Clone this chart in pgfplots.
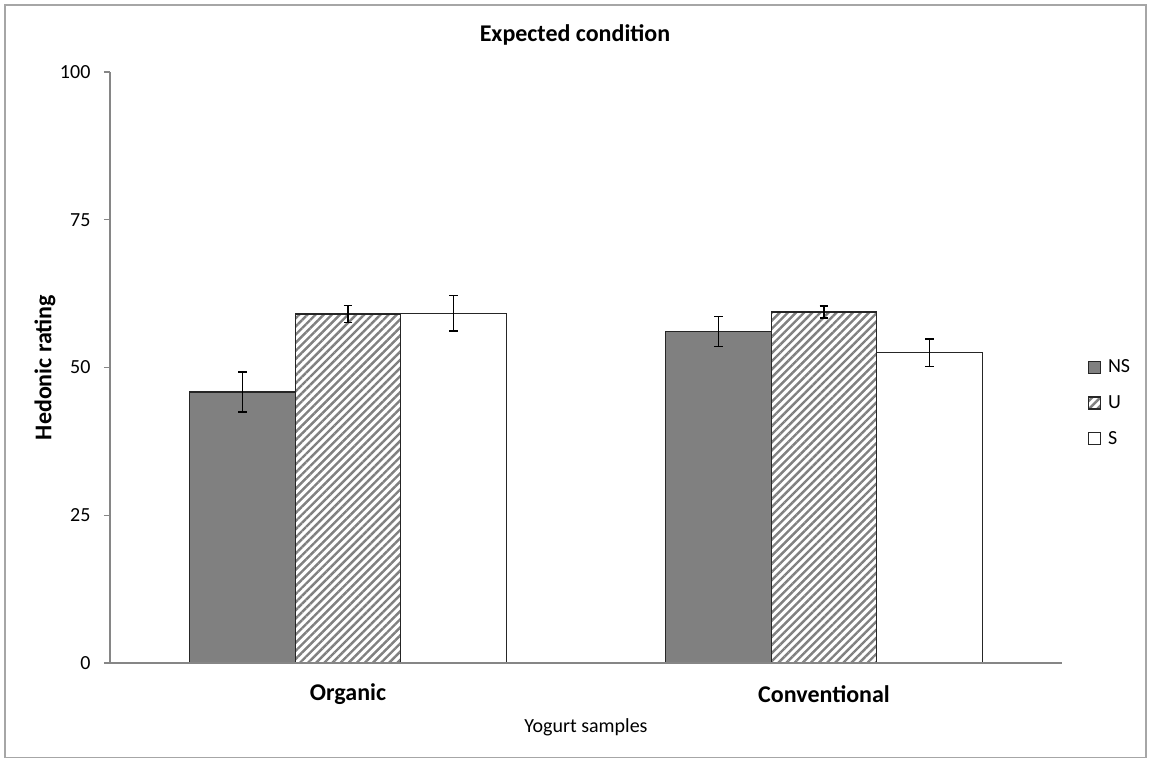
\documentclass[border=0pt]{standalone}
\usepackage{pgfplots}
\pgfplotsset{compat=1.18}
\usepackage{pgfplotstable}
\usetikzlibrary{patterns.meta}
\usepackage{fontspec}
\setmainfont{Carlito}

\definecolor{axisgray}{HTML}{868686}
\definecolor{barfill}{HTML}{808080}
\definecolor{framegray}{HTML}{A6A6A6}

\pgfplotstableread{
x NS NSe U Ue S Se
0 45.85 3.4 59.05 1.4 59.2 3.0
1 56.1 2.5 59.4 1.0 52.5 2.3
}\datatable

\begin{document}
\begin{tikzpicture}[x=1pt,y=1pt]
\useasboundingbox (0,0) rectangle (861.75,570);
\draw[framegray, line width=1pt] (3.75,1.9) rectangle (859.5,566.25);
\node[font=\fontsize{18}{20}\selectfont\bfseries] at (431.25,544) {Expected condition};
\begin{axis}[
  at={(82.5pt,72.75pt)}, anchor=south west,
  scale only axis, width=714pt, height=443.25pt,
  xmin=-0.5, xmax=1.5, ymin=0, ymax=100,
  ytick={0,25,50,75,100},
  xtick={0,1}, xticklabels={Organic,Conventional},
  axis x line*=bottom, axis y line*=left,
  axis on top=true,
  axis line style={axisgray, line width=1pt},
  xtick style={draw=none},
  ytick style={axisgray, line width=0.8pt},
  tick align=outside, major tick length=4.5pt,
  xticklabel style={font=\fontsize{18}{20}\selectfont\bfseries, anchor=center, yshift=-19pt},
  yticklabel style={font=\fontsize{15}{17}\selectfont, inner sep=0pt, xshift=-10pt},
  /pgf/number format/assume math mode=true,
  xlabel={Yogurt samples},
  xlabel style={font=\fontsize{15}{17}\selectfont, at={(axis description cs:0.5,-0.108)}, anchor=center},
  ylabel={Hedonic rating},
  ylabel style={font=\fontsize{18}{20}\selectfont\bfseries, at={(axis description cs:-0.0683,0.5)}, anchor=center},
  ybar, bar width=79.1pt,
  legend style={at={(axis description cs:1.023,0.44)}, anchor=west, draw=none, fill=none,
    font=\fontsize{15}{17}\selectfont, row sep=11.5pt, cells={anchor=west}},
  legend image code/.code={\draw[#1] (0pt,-4.5pt) rectangle (9pt,4.5pt); \path (12pt,0pt);},
  error bars/error bar style={black, line width=1pt},
  error bars/error mark options={black, line width=1pt, mark size=3.2pt, rotate=90},
]
\addplot[fill=barfill, draw=black!85, line width=0.9pt, bar shift=-79.1pt,
  error bars/.cd, y dir=both, y explicit]
  table[x=x, y=NS, y error=NSe] {\datatable};
\addlegendentry{NS}
\addplot[draw=black!85, line width=0.9pt, bar shift=0pt,
  pattern={Lines[angle=45, distance=4.3pt, line width=1.8pt]}, pattern color=barfill,
  error bars/.cd, y dir=both, y explicit]
  table[x=x, y=U, y error=Ue] {\datatable};
\addlegendentry{U}
\addplot[fill=white, draw=black!85, line width=0.9pt, bar shift=79.1pt,
  error bars/.cd, y dir=both, y explicit]
  table[x=x, y=S, y error=Se] {\datatable};
\addlegendentry{S}
\end{axis}
\end{tikzpicture}
\end{document}
